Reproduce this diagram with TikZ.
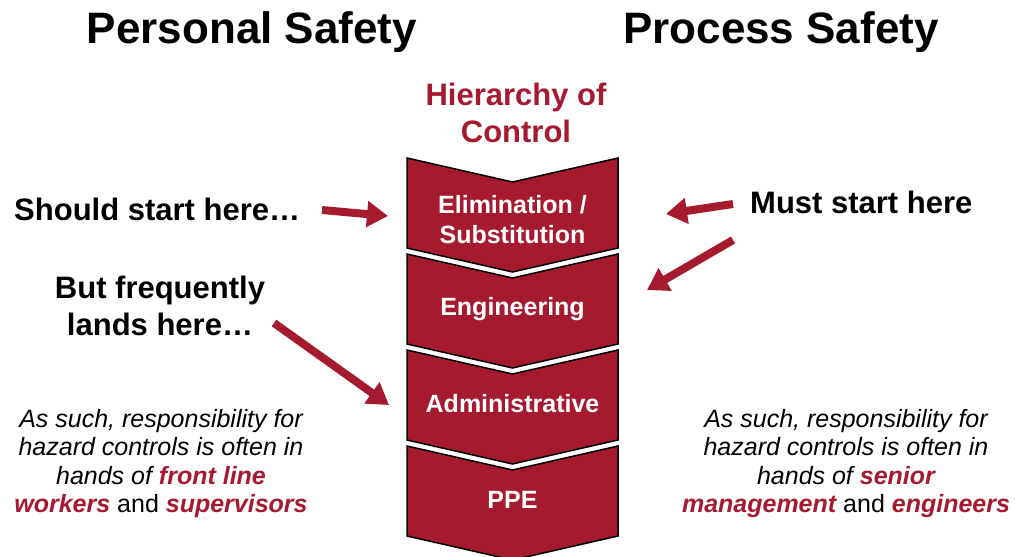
\documentclass[tikz,border=0pt]{standalone}
\usepackage{fontspec}
\setmainfont{Liberation Sans}
\usetikzlibrary{arrows.meta}
\definecolor{hocred}{RGB}{166,26,48}
\begin{document}
\begin{tikzpicture}[x=1pt,y=-1pt,
  title/.style={font=\fontsize{44}{50}\selectfont\bfseries, inner sep=0, anchor=base},
  big/.style={font=\fontsize{31}{37}\selectfont\bfseries, inner sep=0, anchor=base, align=center},
  chev/.style={fill=hocred, draw=black, line width=1.5pt, line join=miter},
  chevtext/.style={font=\fontsize{25}{30}\selectfont\bfseries, text=white, inner sep=0, anchor=base, align=center},
  note/.style={font=\fontsize{25}{28.5}\selectfont\itshape, inner sep=0, anchor=base, align=center},
  bigarrow/.style={draw=hocred, line width=8pt, -{Triangle[length=21pt,width=25pt]}}
]
\useasboundingbox[fill=white] (0,0) rectangle (1015,557);

% titles (multi-line nodes: base = last line's baseline)
\node[title] (ps) at (252,43) {Personal Safety};
\node[title] (prs) at (781,43) {Process Safety};
\node[big, text=hocred] (hoc) at (516,142) {Hierarchy of\\Control};

% chevrons
\foreach \y in {158,254,350,446}{
  \draw[chev] (407,\y) -- (512.5,\y+24) -- (618,\y) -- (618,\y+90)
    -- (512.5,\y+114) -- (407,\y+90) -- cycle;
}
\node[chevtext] (elim) at (512.5,243) {Elimination /\\Substitution};
\node[chevtext] (eng) at (512.5,315) {Engineering};
\node[chevtext] (adm) at (512.5,412) {Administrative};
\node[chevtext] (ppe) at (512.5,508) {PPE};

% labels
\node[big, anchor=base west] (should) at (14,220) {Should start here…};
\node[big] (lands) at (160,335) {But frequently\\lands here…};
\node[big, anchor=base west] (must) at (750,213) {Must start here};

% notes
\node[note] (lnote) at (161,512.5) {As such, responsibility for\\hazard controls is often in\\hands of \textcolor{hocred}{\bfseries front line}\\\textcolor{hocred}{\bfseries workers} {\upshape and} \textcolor{hocred}{\bfseries supervisors}};
\node[note] (rnote) at (846,512.5) {As such, responsibility for\\hazard controls is often in\\hands of \textcolor{hocred}{\bfseries senior}\\\textcolor{hocred}{\bfseries management} {\upshape and} \textcolor{hocred}{\bfseries engineers}};

% arrows
\coordinate (a1s) at (322,210);
\coordinate (a1e) at (388,216);
\coordinate (a2s) at (274,323);
\coordinate (a2e) at (389,405);
\coordinate (a3s) at (733,204);
\coordinate (a3e) at (666,214);
\coordinate (a4s) at (733,240);
\coordinate (a4e) at (647,290);
\draw[bigarrow] (a1s) -- (a1e);
\draw[bigarrow] (a2s) -- (a2e);
\draw[bigarrow] (a3s) -- (a3e);
\draw[bigarrow] (a4s) -- (a4e);
\end{tikzpicture}
\end{document}
